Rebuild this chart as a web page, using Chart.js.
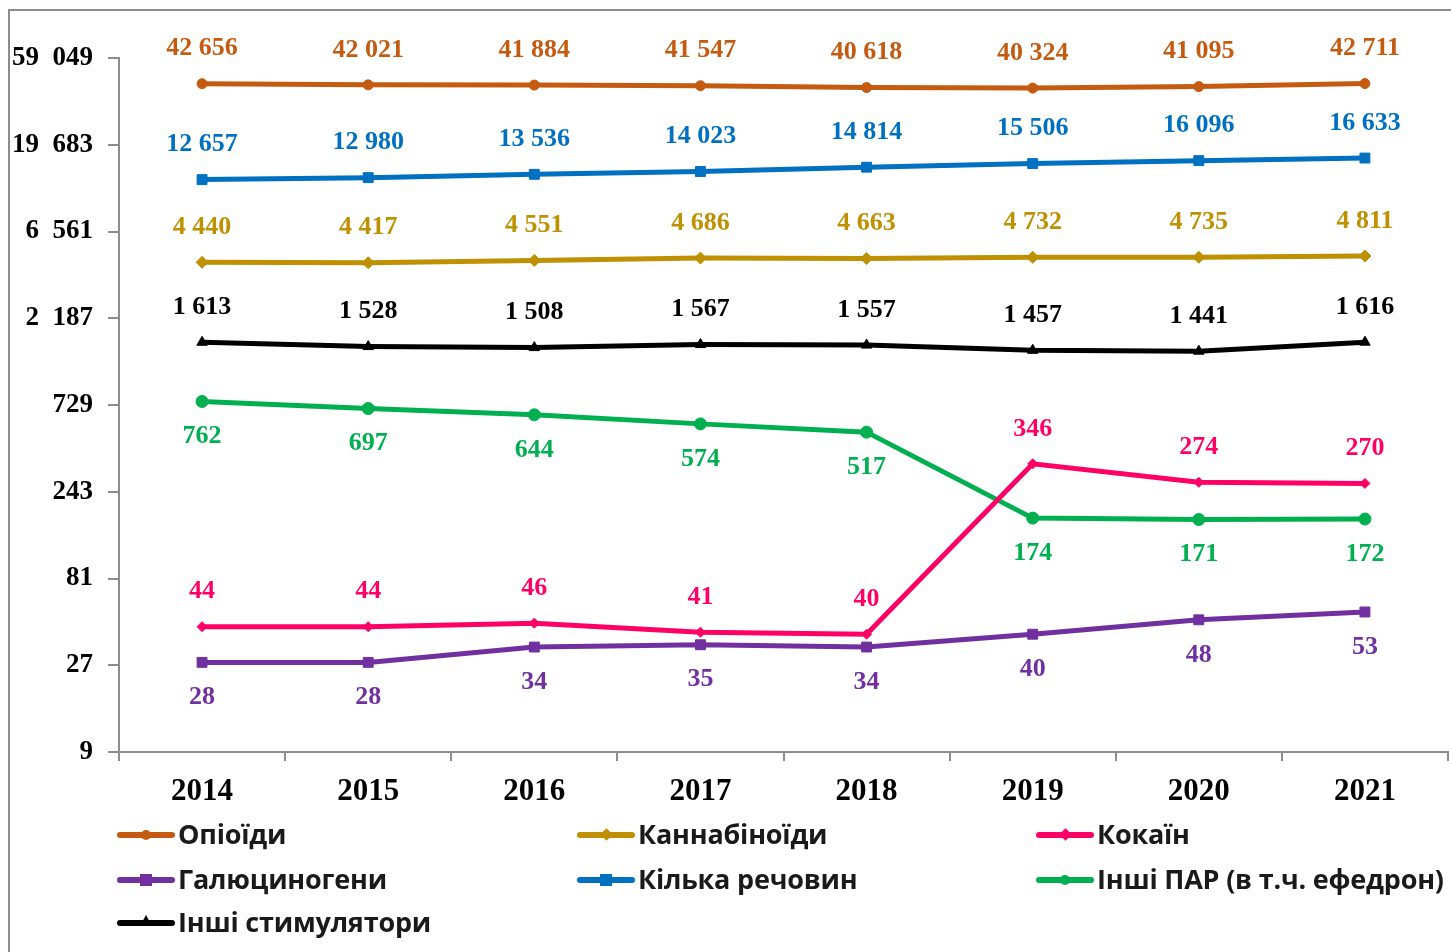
<!DOCTYPE html>
<html>
<head>
<meta charset="utf-8">
<script src="https://cdn.jsdelivr.net/npm/chart.js@4.4.1/dist/chart.umd.min.js"></script>
<style>
  html,body{margin:0;padding:0;background:#fff;}
  #wrap{position:relative;width:1451px;height:952px;overflow:hidden;}
  #c{position:absolute;left:0;top:0;}
  .frameTop{position:absolute;left:8px;top:9px;width:1443px;height:2px;background:#8c8c8c;}
  .frameLeft{position:absolute;left:8px;top:9px;width:2px;height:943px;background:#8c8c8c;}
  .leg{position:absolute;font-family:"Open Sans",sans-serif;font-weight:700;font-size:27px;color:#1a1a1a;white-space:nowrap;line-height:30px;letter-spacing:-0.2px;}
  .leg .sym{position:absolute;left:0;top:12px;width:58px;height:6px;border-radius:3px;}
  .leg .mk{position:absolute;top:9px;left:24px;width:10px;height:12px;}
  .leg .txt{position:absolute;left:61px;top:-1px;}
</style>
</head>
<body>
<div id="wrap">
  <canvas id="c" width="1456" height="952"></canvas>
  <div class="frameTop"></div>
  <div class="frameLeft"></div>
  <div id="legend"></div>
</div>
<script>
const categories = ['2014','2015','2016','2017','2018','2019','2020','2021'];
const yTicks = [9,27,81,243,729,2187,6561,19683,59049];

const opioids       = [42656,42021,41884,41547,40618,40324,41095,42711];
const cannabinoids  = [4440,4417,4551,4686,4663,4732,4735,4811];
const cocaine       = [44,44,46,41,40,346,274,270];
const hallucinogens = [28,28,34,35,34,40,48,53];
const multiple      = [12657,12980,13536,14023,14814,15506,16096,16633];
const otherPAR      = [762,697,644,574,517,174,171,172];
const stimulants    = [1613,1528,1508,1567,1557,1457,1441,1616];

const seriesNames = ['Опіоїди','Каннабіноїди','Кокаїн','Галюциногени','Кілька речовин','Інші ПАР (в т.ч. ефедрон)','Інші стимулятори'];

function fmt(v, sep){ return String(v).replace(/\B(?=(\d{3})+(?!\d))/g, sep || ' '); }

const defs = [
  {data:opioids,       color:'#C55A11', style:'circle',   r:5,  pos:'above'},
  {data:cannabinoids,  color:'#BF9000', style:'rectRot',  r:6,  pos:'above'},
  {data:cocaine,       color:'#FF0066', style:'rectRot',  r:5,  pos:'above'},
  {data:hallucinogens, color:'#7030A0', style:'rect',     r:7,  pos:'below'},
  {data:multiple,      color:'#0070C0', style:'rect',     r:7,  pos:'above'},
  {data:otherPAR,      color:'#00B050', style:'circle',   r:6,  pos:'below'},
  {data:stimulants,    color:'#000000', style:'triangle', r:6,  pos:'above'}
];

const datasets = defs.map((d,i)=>({
  label: seriesNames[i],
  data: d.data,
  borderColor: d.color,
  backgroundColor: d.color,
  pointBackgroundColor: d.color,
  pointBorderColor: d.color,
  pointStyle: d.style,
  pointRadius: d.r,
  pointBorderWidth: 1,
  borderWidth: 5,
  tension: 0,
  labelPos: d.pos
}));

const labelPlugin = {
  id:'valueLabels',
  afterDatasetsDraw(chart){
    const ctx = chart.ctx;
    ctx.save();
    ctx.font = 'bold 26px "Liberation Serif", "Times New Roman", serif';
    ctx.textAlign = 'center';
    ctx.textBaseline = 'middle';
    chart.data.datasets.forEach((ds,di)=>{
      const meta = chart.getDatasetMeta(di);
      meta.data.forEach((pt,i)=>{
        const off = ds.labelPos === 'above' ? -35 : 35;
        ctx.fillStyle = ds.borderColor;
        ctx.fillText(fmt(ds.data[i]), pt.x, pt.y + off);
      });
    });
    ctx.restore();
  }
};

new Chart(document.getElementById('c'), {
  type:'line',
  data:{labels:categories, datasets},
  options:{
    responsive:false,
    animation:false,
    layout:{padding:{left:0, top:58, right:2, bottom:135}},
    plugins:{legend:{display:false}, tooltip:{enabled:false}},
    scales:{
      x:{
        offset:true,
        grid:{display:true, drawOnChartArea:false, drawTicks:true, tickLength:9, color:'#8c8c8c', lineWidth:2, offset:true},
        border:{display:true, color:'#8c8c8c', width:2},
        ticks:{color:'#000', font:{family:'"Liberation Serif", serif', size:31, weight:'bold'}, padding:12, maxRotation:0},
        afterFit(s){ s.height = 65; }
      },
      y:{
        type:'logarithmic',
        min:9, max:59049,
        grid:{display:true, drawOnChartArea:false, drawTicks:true, tickLength:11, color:'#8c8c8c', lineWidth:2},
        border:{display:true, color:'#8c8c8c', width:2},
        afterBuildTicks(s){ s.ticks = yTicks.map(v=>({value:v})); },
        ticks:{color:'#000', font:{family:'"Liberation Serif", serif', size:27, weight:'bold'}, padding:15,
          callback:(v)=>fmt(v, '\u2002')},
        afterFit(s){ s.width = 119; }
      }
    }
  },
  plugins:[labelPlugin]
});

// HTML legend
const legPos = [
  [117,820],[577,820],[1036,820],
  [117,865],[577,865],[1036,865],
  [117,908]
];
const mkShapes = ['circle','diamond','diamond','square','square','circle','triangle'];
const legend = document.getElementById('legend');
defs.forEach((d,i)=>{
  const el = document.createElement('div');
  el.className='leg';
  el.style.left = legPos[i][0]+'px';
  el.style.top = legPos[i][1]+'px';
  let mk = '';
  const s = mkShapes[i];
  if(s==='circle') mk = `<div class="mk" style="background:${d.color};border-radius:50%;width:10px;height:10px;top:10px;left:24px"></div>`;
  else if(s==='diamond') mk = `<div class="mk" style="background:${d.color};transform:rotate(45deg);width:9px;height:9px;top:10px;left:25px"></div>`;
  else if(s==='square') mk = `<div class="mk" style="background:${d.color};width:12px;height:12px;top:9px;left:23px"></div>`;
  else mk = `<div class="mk" style="width:0;height:0;border-left:6px solid transparent;border-right:6px solid transparent;border-bottom:11px solid ${d.color};top:7px;left:23px"></div>`;
  el.innerHTML = `<div class="sym" style="background:${d.color}"></div>${mk}<div class="txt">${seriesNames[i]}</div>`;
  legend.appendChild(el);
});
</script>
</body>
</html>
